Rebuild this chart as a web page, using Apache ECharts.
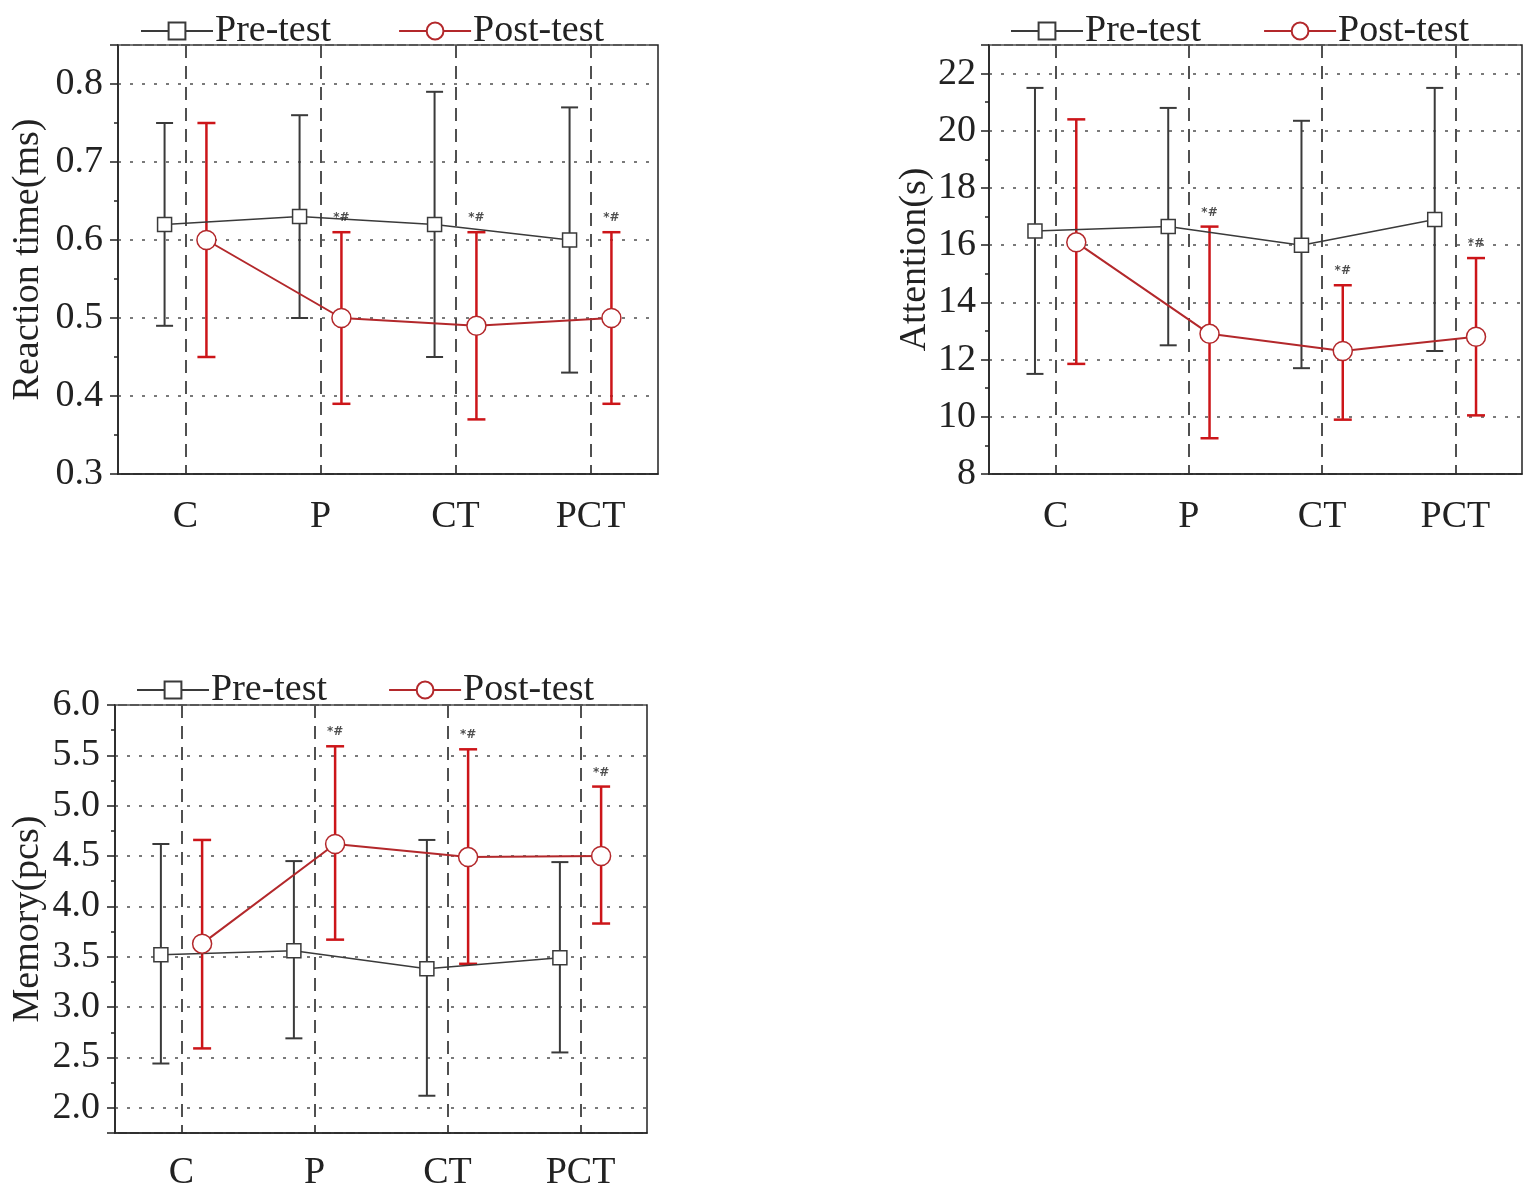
<!DOCTYPE html>
<html>
<head>
<meta charset="utf-8">
<script src="https://cdn.jsdelivr.net/npm/echarts@6/dist/echarts.min.js"></script>
<style>
html, body { margin: 0; padding: 0; background: #fff; }
#main { width: 1536px; height: 1197px; }
</style>
</head>
<body>
<div id="main"></div>
<script>
var groups = ['C', 'P', 'CT', 'PCT'];

// Reaction time (ms)
var rtPre = [0.62, 0.63, 0.62, 0.60];
var rtPreLow = [0.49, 0.50, 0.45, 0.43];
var rtPreHigh = [0.75, 0.76, 0.79, 0.77];
var rtPost = [0.60, 0.50, 0.49, 0.50];
var rtPostLow = [0.45, 0.39, 0.37, 0.39];
var rtPostHigh = [0.75, 0.61, 0.61, 0.61];
var rtMarks = ['', '*#', '*#', '*#'];

// Attention (s)
var atPre = [16.5, 16.65, 16.0, 16.9];
var atPreLow = [11.5, 12.5, 11.7, 12.3];
var atPreHigh = [21.5, 20.8, 20.35, 21.5];
var atPost = [16.1, 12.9, 12.3, 12.8];
var atPostLow = [11.85, 9.25, 9.9, 10.05];
var atPostHigh = [20.4, 16.65, 14.6, 15.55];
var atMarks = ['', '*#', '*#', '*#'];

// Memory (pcs)
var memPre = [3.52, 3.56, 3.38, 3.49];
var memPreLow = [2.44, 2.69, 2.12, 2.55];
var memPreHigh = [4.62, 4.45, 4.66, 4.44];
var memPost = [3.63, 4.62, 4.49, 4.50];
var memPostLow = [2.59, 3.67, 3.43, 3.83];
var memPostHigh = [4.66, 5.59, 5.56, 5.19];
var memMarks = ['', '*#', '*#', '*#'];

var FONT = 'Liberation Serif';
var INK = '#222';
var PRE_COLOR = '#3a3a3a';
var POST_COLOR = '#b3282b';
var BAR_RED = '#cc1519';
var SHIFT = 0.155; // pre / post side offset inside a group

var panels = [{
    grid : { left : 118, top : 45, width : 540, height : 429 },
    legend : { left : 135, top : 7, gap : 67 },
    y : { min : 0.3, max : 0.85, interval : 0.1, digits : 1, hideMax : true },
    name : 'Reaction time(ms)', nameGap : 71, labelMargin : 24, yMargin : 15,
    pre : rtPre, preLow : rtPreLow, preHigh : rtPreHigh,
    post : rtPost, postLow : rtPostLow, postHigh : rtPostHigh, marks : rtMarks
}, {
    grid : { left : 989, top : 45, width : 533, height : 429 },
    legend : { left : 1005, top : 7, gap : 62 },
    y : { min : 8, max : 23, interval : 2, digits : 0, hideMax : true },
    name : 'Attention(s)', nameGap : 53, labelMargin : 24, yMargin : 13,
    pre : atPre, preLow : atPreLow, preHigh : atPreHigh,
    post : atPost, postLow : atPostLow, postHigh : atPostHigh, marks : atMarks
}, {
    grid : { left : 115, top : 705, width : 532, height : 428 },
    legend : { left : 131, top : 666, gap : 61 },
    y : { min : 1.75, max : 6, splitNumber : 8, digits : 1, hideMin : true },
    name : 'Memory(pcs)', nameGap : 68, labelMargin : 21, yMargin : 15,
    pre : memPre, preLow : memPreLow, preHigh : memPreHigh,
    post : memPost, postLow : memPostLow, postHigh : memPostHigh, marks : memMarks
}];

function errorBar(capHalf, color, width) {
    return function(params, api) {
        var x = api.value(0);
        var lo = api.coord([x, api.value(1)]);
        var hi = api.coord([x, api.value(2)]);
        var st = { stroke : color, lineWidth : width };
        return {
            type : 'group',
            children : [
                { type : 'line', shape : { x1 : lo[0], y1 : lo[1], x2 : hi[0], y2 : hi[1] }, style : st },
                { type : 'line', shape : { x1 : lo[0] - capHalf, y1 : lo[1], x2 : lo[0] + capHalf, y2 : lo[1] }, style : st },
                { type : 'line', shape : { x1 : hi[0] - capHalf, y1 : hi[1], x2 : hi[0] + capHalf, y2 : hi[1] }, style : st }
            ]
        };
    };
}

var grids = [], legends = [], xAxes = [], yAxes = [], series = [];

panels.forEach(function(p, i) {
    grids.push({
        left : p.grid.left, top : p.grid.top, width : p.grid.width, height : p.grid.height,
        show : true, borderColor : INK, borderWidth : 1.5, containLabel : false
    });
    legends.push({
        left : p.legend.left, top : p.legend.top,
        itemWidth : 72, itemHeight : 21, itemGap : p.legend.gap,
        selectedMode : false,
        textStyle : { fontFamily : FONT, fontSize : 38, color : INK, padding : [0, 0, 0, -3] },
        data : ['Pre-test', 'Post-test']
    });
    // group labels, centre ticks and dashed guides
    xAxes.push({
        type : 'category', gridIndex : i, position : 'bottom', data : groups, boundaryGap : true,
        axisLine : { onZero : false, lineStyle : { color : INK, width : 1.5 } },
        axisTick : { alignWithLabel : true, length : 7, lineStyle : { color : INK, width : 1.5 } },
        axisLabel : { fontFamily : FONT, fontSize : 38, color : INK, margin : p.labelMargin },
        splitLine : { show : true, alignWithLabel : true, lineStyle : { type : [13, 8], color : '#505050', width : 2 } }
    });
    // short ticks on group borders
    xAxes.push({
        type : 'category', gridIndex : i, position : 'bottom', data : groups, boundaryGap : true,
        axisLine : { show : false, onZero : false },
        axisTick : { length : 3, lineStyle : { color : INK, width : 1.5 } },
        axisLabel : { show : false },
        splitLine : { show : false }
    });
    // hidden numeric axis used to place the points
    xAxes.push({
        type : 'value', gridIndex : i, min : -0.5, max : 3.5, show : false
    });

    var yAx = {
        type : 'value', gridIndex : i, min : p.y.min, max : p.y.max,
        name : p.name, nameLocation : 'middle', nameGap : p.nameGap,
        nameTextStyle : { fontFamily : FONT, fontSize : 38, color : INK },
        axisLine : { show : true, onZero : false, lineStyle : { color : INK, width : 1.5 } },
        axisTick : { show : true, length : 8, lineStyle : { color : INK, width : 1.5 } },
        minorTick : { show : true, splitNumber : 2, length : 4, lineStyle : { color : INK, width : 1.5 } },
        axisLabel : {
            fontFamily : FONT, fontSize : 38, color : INK, margin : p.yMargin,
            showMaxLabel : !p.y.hideMax, showMinLabel : !p.y.hideMin,
            formatter : (function(d) {
                return function(v) { return (+v).toFixed(d); };
            })(p.y.digits)
        },
        splitLine : { show : true, lineStyle : { type : [3, 9], color : '#7a7a7a', width : 2 } }
    };
    if (p.y.interval) {
        yAx.interval = p.y.interval;
    } else {
        yAx.splitNumber = p.y.splitNumber;
    }
    yAxes.push(yAx);

    var xi = i * 3 + 2;
    series.push({
        name : 'Pre-test', type : 'line', xAxisIndex : xi, yAxisIndex : i,
        data : p.pre.map(function(v, k) { return [k - SHIFT, v]; }),
        symbol : 'rect', symbolSize : 14,
        itemStyle : { color : '#fff', borderColor : PRE_COLOR, borderWidth : 1.5 },
        lineStyle : { color : PRE_COLOR, width : 1.5 },
        z : 4, animation : false, emphasis : { disabled : true }
    });
    series.push({
        name : 'Post-test', type : 'line', xAxisIndex : xi, yAxisIndex : i,
        data : p.post.map(function(v, k) { return [k + SHIFT, v]; }),
        symbol : 'circle', symbolSize : 19,
        itemStyle : { color : '#fff', borderColor : POST_COLOR, borderWidth : 1.5 },
        lineStyle : { color : POST_COLOR, width : 2 },
        z : 4, animation : false, emphasis : { disabled : true }
    });
    series.push({
        type : 'custom', xAxisIndex : xi, yAxisIndex : i,
        renderItem : errorBar(8.5, PRE_COLOR, 2),
        encode : { x : 0, y : [1, 2] },
        data : p.preLow.map(function(v, k) { return [k - SHIFT, v, p.preHigh[k]]; }),
        z : 3, clip : false, animation : false, silent : true
    });
    series.push({
        type : 'custom', xAxisIndex : xi, yAxisIndex : i,
        renderItem : errorBar(9, BAR_RED, 2.5),
        encode : { x : 0, y : [1, 2] },
        data : p.postLow.map(function(v, k) { return [k + SHIFT, v, p.postHigh[k]]; }),
        z : 3, clip : false, animation : false, silent : true
    });
    series.push({
        type : 'scatter', xAxisIndex : xi, yAxisIndex : i,
        data : p.postHigh.map(function(v, k) { return [k + SHIFT, v, p.marks[k]]; }),
        symbolSize : 0,
        label : {
            show : true, position : 'top', distance : 8,
            formatter : function(q) { return q.value[2]; },
            fontFamily : 'DejaVu Sans', fontSize : 12, fontWeight : 'bold', color : INK
        },
        z : 5, animation : false, silent : true
    });
});

var chart = echarts.init(document.getElementById('main'));
chart.setOption({
    backgroundColor : '#fff',
    animation : false,
    grid : grids,
    legend : legends,
    xAxis : xAxes,
    yAxis : yAxes,
    series : series
});
</script>
</body>
</html>
